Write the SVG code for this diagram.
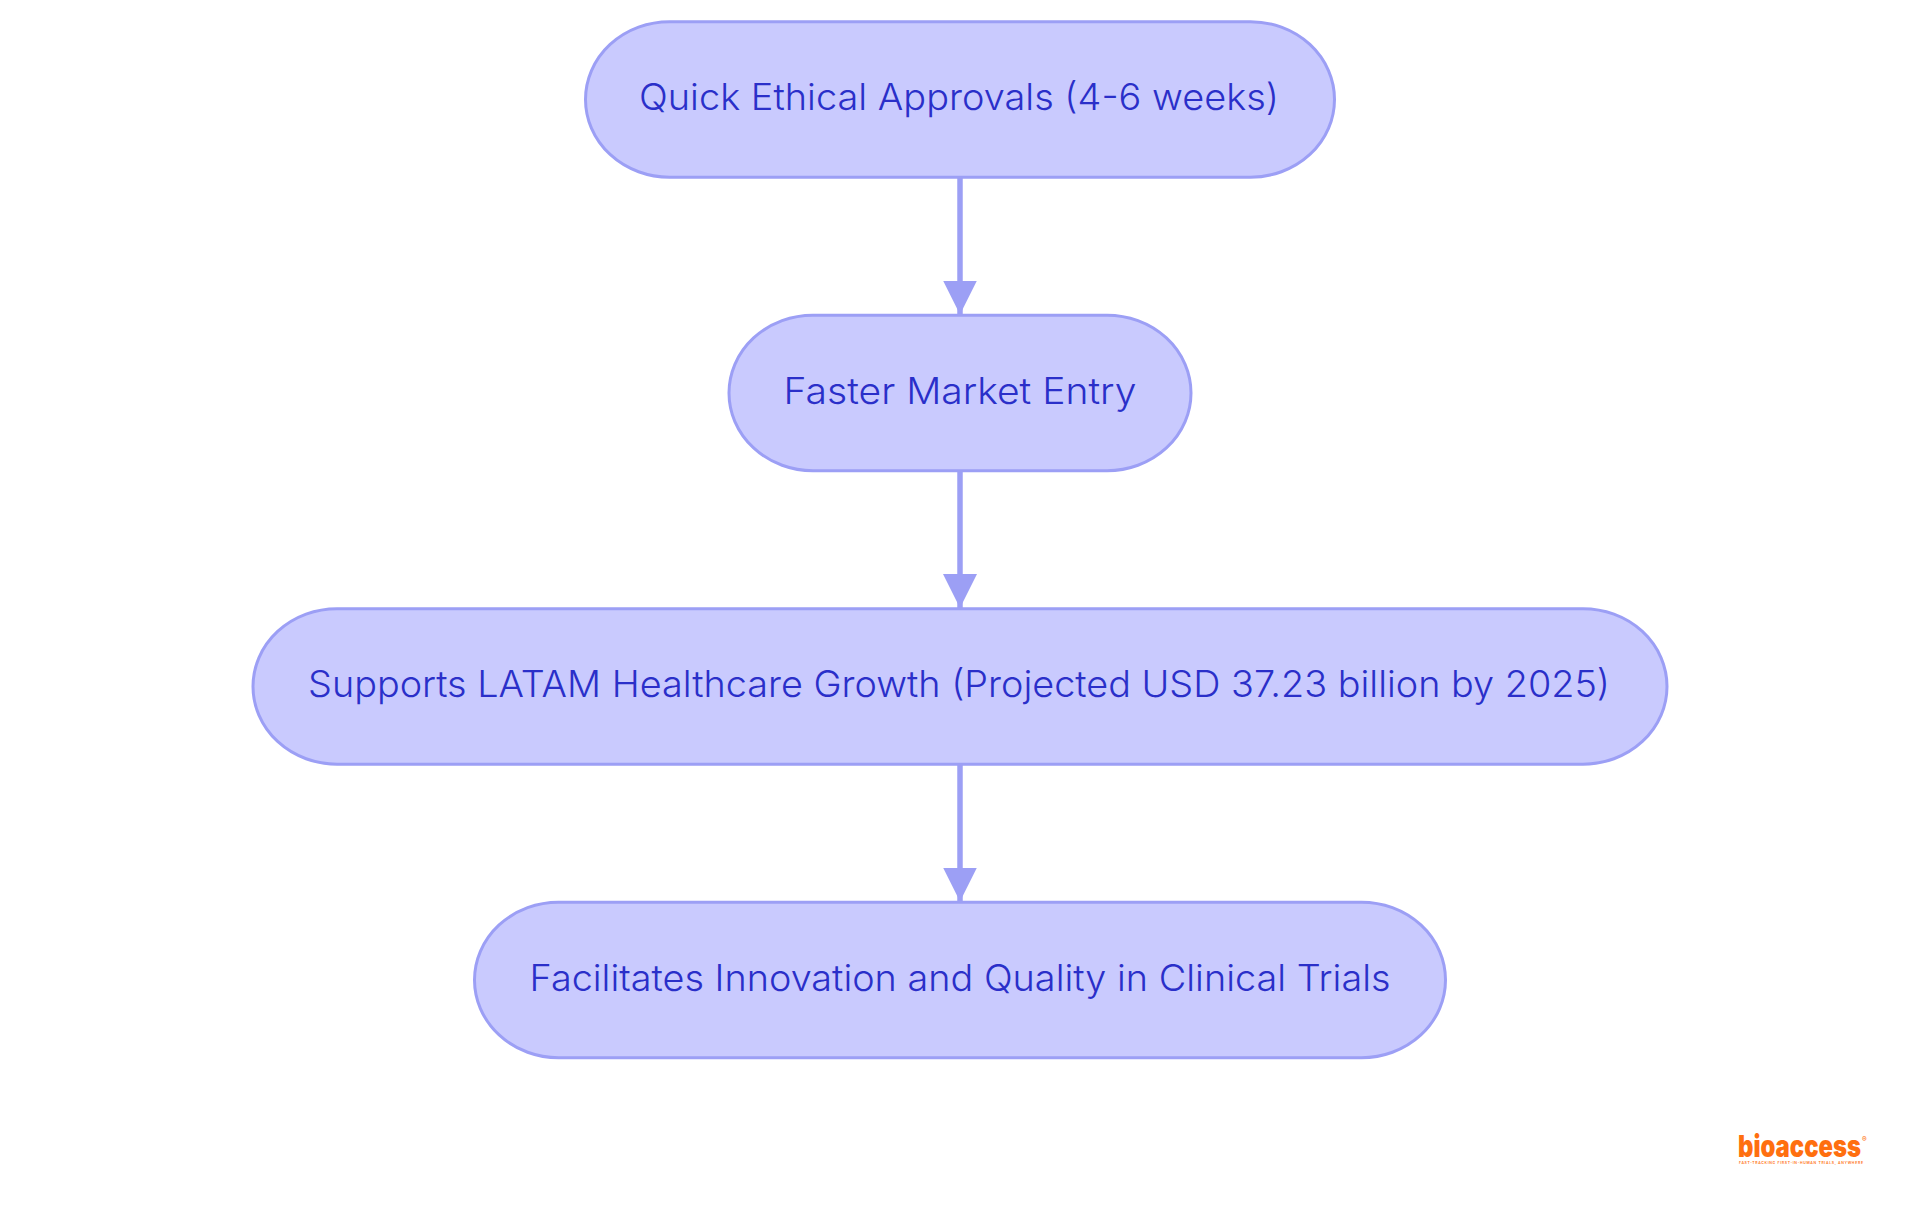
<svg xmlns="http://www.w3.org/2000/svg" width="1920" height="1215" viewBox="0 0 1920 1215">
<style>
.n{fill:#C9CAFE;stroke:#9C9FF5;stroke-width:3}
.t{font-family:"Inter","Noto Sans","Liberation Sans",sans-serif;font-size:37px;font-weight:300;fill:#2A2FC9;text-anchor:middle}
.e{fill:none;stroke:#9C9FF5;stroke-width:5.500}
</style>
<defs><marker id="a" markerUnits="userSpaceOnUse" markerWidth="34" markerHeight="34" refX="34" refY="17" orient="auto"><path d="M0 0L34 17L0 34z" fill="#9C9FF5"/></marker></defs>
<rect width="1920" height="1215" fill="#fff"/>
<g id="connectors">
<path class="e" d="M960 177V314.500" marker-end="url(#a)"/>
<path class="e" d="M960 470.700V608" marker-end="url(#a)"/>
<path class="e" d="M960 764.200V901.500" marker-end="url(#a)"/>
</g>
<g id="n1"><rect class="n" x="585.500" y="21.700" width="749" height="155.500" rx="84" ry="77.750"/><text class="t" x="959" y="110" textLength="640" lengthAdjust="spacingAndGlyphs">Quick Ethical Approvals (4-6 weeks)</text></g>
<g id="n2"><rect class="n" x="729" y="315.200" width="462" height="155.500" rx="84" ry="77.750"/><text class="t" x="960" y="403.500" textLength="353" lengthAdjust="spacingAndGlyphs">Faster Market Entry</text></g>
<g id="n3"><rect class="n" x="253" y="608.700" width="1414" height="155.500" rx="84" ry="77.750"/><text class="t" x="959" y="697" textLength="1302" lengthAdjust="spacingAndGlyphs">Supports LATAM Healthcare Growth (Projected USD 37.23 billion by 2025)</text></g>
<g id="n4"><rect class="n" x="474.500" y="902.200" width="971" height="155.500" rx="84" ry="77.750"/><text class="t" x="960" y="990.500" textLength="861" lengthAdjust="spacingAndGlyphs">Facilitates Innovation and Quality in Clinical Trials</text></g>
<g id="logo" fill="#FF6F0F" font-family="Inter,'Liberation Sans',sans-serif">
<text x="1738" y="1157" font-size="30" font-weight="900" textLength="123" lengthAdjust="spacingAndGlyphs">bioaccess</text>
<text x="1862" y="1142" font-size="7" font-weight="700">®</text>
<text x="1739" y="1164" font-size="3.500" font-weight="600" textLength="124" lengthAdjust="spacing">FAST-TRACKING FIRST-IN-HUMAN TRIALS, ANYWHERE</text>
</g>
</svg>
